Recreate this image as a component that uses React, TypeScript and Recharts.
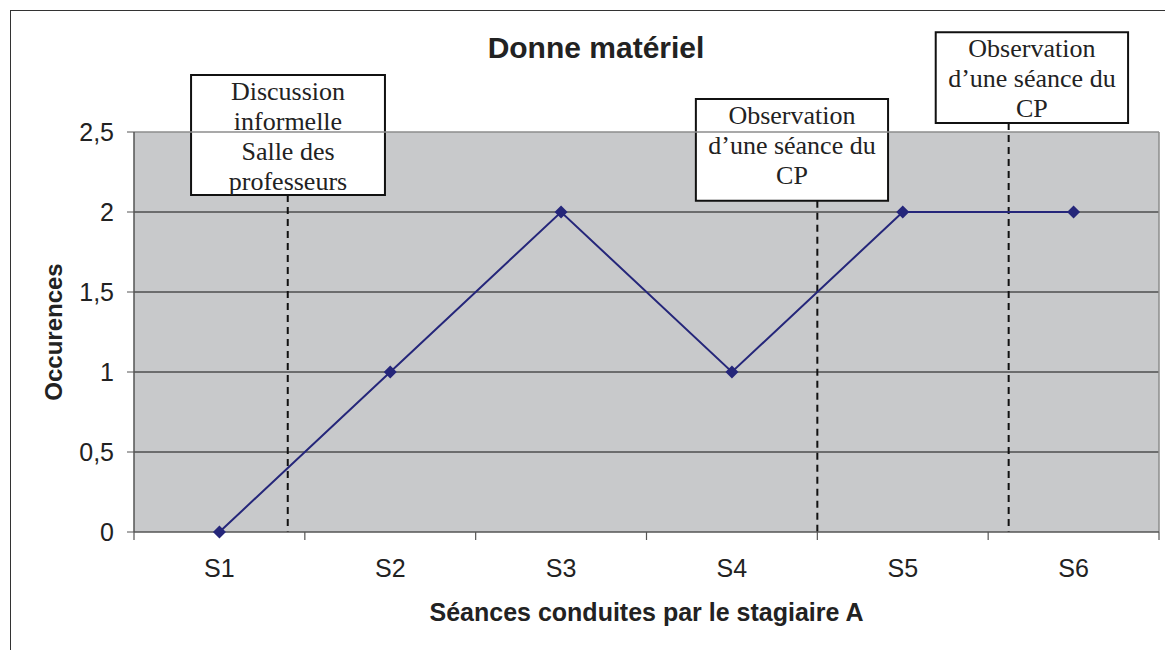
import React from 'react'
import {
  LineChart,
  Line,
  XAxis,
  YAxis,
  CartesianGrid,
  ReferenceLine,
  ReferenceArea,
  Label,
} from 'recharts'

// Sessions and occurrence counts
const sessions = ['S1', 'S2', 'S3', 'S4', 'S5', 'S6']
const occurrences = [0, 1, 2, 1, 2, 2]
const yTicks = [0, 0.5, 1, 1.5, 2, 2.5]
const gridValues = [0.5, 1, 1.5, 2]

// Annotation boxes (x in session units, y in occurrence units)
const boxLines = [
  ['Discussion', 'informelle', 'Salle des', 'professeurs'],
  ['Observation', 'd\u2019une s\u00e9ance du', 'CP'],
  ['Observation', 'd\u2019une s\u00e9ance du', 'CP'],
]
const boxX = [[0.334, 1.469], [3.289, 4.414], [4.693, 5.819]]
const boxY = [[2.106, 2.856], [2.071, 2.706], [2.556, 3.123]]

// Dashed markers: x position and top of the dashed line
const markerX = [0.9, 4.0, 5.12]
const markerTop = [2.106, 2.071, 2.556]

const chartData = sessions.map((s, i) => ({ pos: i + 0.5, name: s, value: occurrences[i] }))
const xTicks = Array.from({ length: sessions.length * 2 + 1 }, (_, i) => i / 2)

const NAVY = '#25267a'
const SANS = 'Liberation Sans, Arial, sans-serif'

const Diamond = (props: any) => {
  const { cx, cy } = props
  if (cx == null || cy == null) return null
  const r = 6.5
  return (
    <polygon
      points={`${cx},${cy - r} ${cx + r},${cy} ${cx},${cy + r} ${cx - r},${cy}`}
      fill={NAVY}
    />
  )
}

const XTick = (props: any) => {
  const { x, y, payload } = props
  const v = payload.value
  if (Number.isInteger(v)) {
    return <line x1={x} x2={x} y1={y} y2={y + 8} stroke="#555" strokeWidth={1.2} />
  }
  return (
    <text x={x} y={y + 45} textAnchor="middle" fontFamily={SANS} fontSize={25} fill="#222">
      {sessions[Math.floor(v)]}
    </text>
  )
}

const boxLabel = (lines: string[]) => (props: any) => {
  const { x, y, width } = props.viewBox
  return (
    <text
      x={x + width / 2}
      y={y + 25}
      textAnchor="middle"
      fontFamily="Liberation Serif, 'Times New Roman', serif"
      fontSize={26}
      fill="#222"
    >
      {lines.map((l, i) => (
        <tspan key={i} x={x + width / 2} dy={i === 0 ? 0 : 30}>
          {l}
        </tspan>
      ))}
    </text>
  )
}

const yLabel = (props: any) => {
  const { y, height } = props.viewBox
  const cx = 53
  const cy = y + height / 2
  return (
    <text
      x={cx}
      y={cy}
      transform={`rotate(-90 ${cx} ${cy})`}
      textAnchor="middle"
      dominantBaseline="central"
      fontFamily={SANS}
      fontWeight="bold"
      fontSize={24}
      fill="#222"
    >
      Occurences
    </text>
  )
}

export default function App() {
  return (
    <div style={{ position: 'absolute', left: 0, top: 0, width: 1165, height: 650, background: '#fff', overflow: 'hidden' }}>
      <div
        style={{
          position: 'absolute',
          left: 10,
          top: 10,
          width: 1160,
          height: 660,
          border: '1.5px solid #333',
        }}
      />
      <div
        style={{
          position: 'absolute',
          left: 396,
          top: 31,
          width: 400,
          textAlign: 'center',
          fontFamily: SANS,
          fontWeight: 'bold',
          fontSize: 30,
          color: '#222',
        }}
      >
        Donne matériel
      </div>
      <div style={{ position: 'absolute', left: 0, top: 0 }}>
        <LineChart
          width={1165}
          height={650}
          data={chartData}
          margin={{ top: 132, right: 6, bottom: 0, left: 0 }}
        >
          <CartesianGrid
            fill="#c8c9cb"
            vertical={false}
            horizontalValues={gridValues}
            stroke="#111"
            strokeWidth={1}
          />
          <XAxis
            dataKey="pos"
            type="number"
            domain={[0, sessions.length]}
            ticks={xTicks}
            interval={0}
            tickSize={0}
            tickMargin={0}
            tickLine={false}
            tick={<XTick />}
            height={118}
            axisLine={{ stroke: '#555', strokeWidth: 1.5 }}
          >
            <Label
              value="Séances conduites par le stagiaire A"
              position="insideBottom"
              offset={29}
              fontFamily={SANS}
              fontWeight="bold"
              fontSize={25}
              fill="#222"
            />
          </XAxis>
          <YAxis
            width={134}
            domain={[0, 2.5]}
            ticks={yTicks}
            interval={0}
            tickSize={7}
            tickMargin={13}
            tickFormatter={(v: number) => String(v).replace('.', ',')}
            tick={{ fontFamily: SANS, fontSize: 25, fill: '#222' }}
            tickLine={{ stroke: '#555' }}
            axisLine={{ stroke: '#555', strokeWidth: 1.5 }}
            label={yLabel}
          />
          <ReferenceLine y={2.5} stroke="#8c8c8c" strokeWidth={1.5} />
          <ReferenceLine x={sessions.length} stroke="#8c8c8c" strokeWidth={1.5} />
          {markerX.map((mx, i) => (
            <ReferenceLine
              key={'m' + i}
              segment={[{ x: mx, y: markerTop[i] }, { x: mx, y: 0 }]}
              stroke="#111"
              strokeWidth={2}
              strokeDasharray="7 5"
              ifOverflow="visible"
            />
          ))}
          <Line
            dataKey="value"
            stroke={NAVY}
            strokeWidth={2}
            dot={<Diamond />}
            activeDot={false}
            isAnimationActive={false}
          />
          {boxLines.map((lines, i) => (
            <ReferenceArea
              key={'b' + i}
              x1={boxX[i][0]}
              x2={boxX[i][1]}
              y1={boxY[i][0]}
              y2={boxY[i][1]}
              fill="#fff"
              fillOpacity={1}
              stroke="#111"
              strokeWidth={2}
              ifOverflow="visible"
              label={boxLabel(lines)}
            />
          ))}
        </LineChart>
      </div>
    </div>
  )
}
